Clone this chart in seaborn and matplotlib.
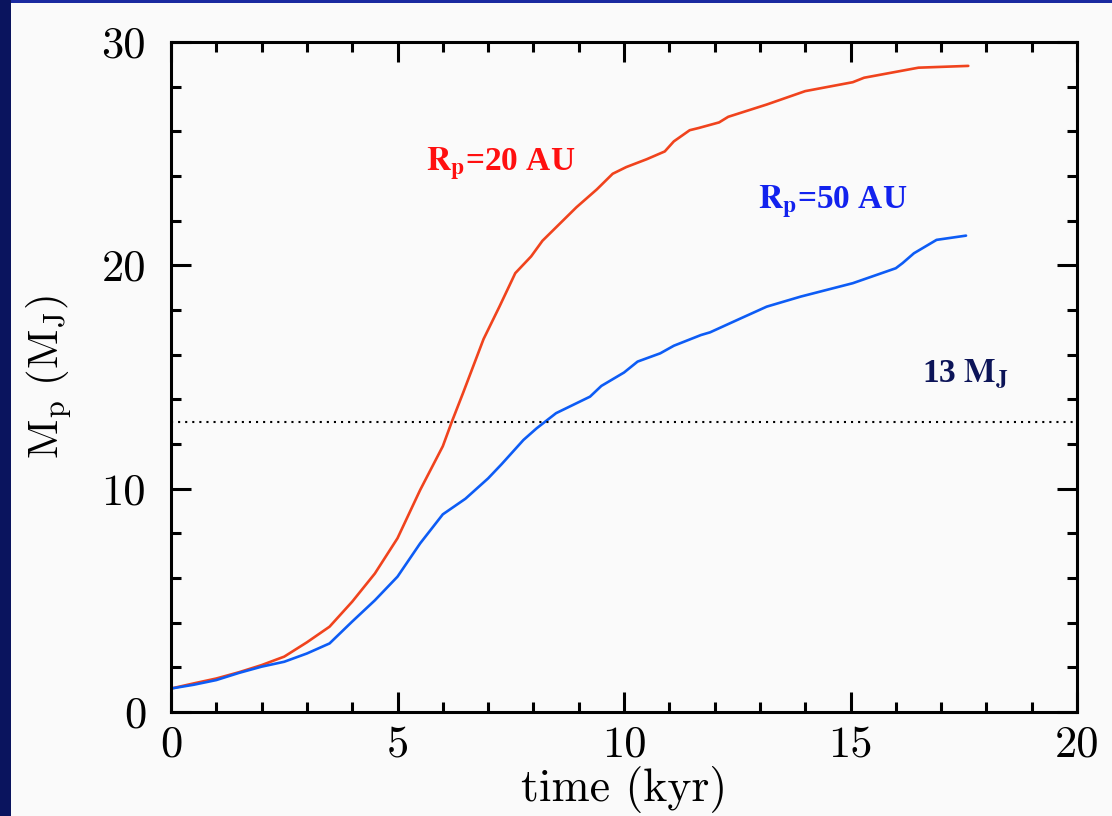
import matplotlib
matplotlib.use("Agg")
import matplotlib.pyplot as plt
import seaborn as sns
import pandas as pd
from matplotlib.patches import Rectangle
from matplotlib.ticker import MultipleLocator

# ---- data ----
t_20au = [0, 0.5, 1, 1.5, 2, 2.5, 3, 3.5, 4, 4.5, 5, 5.5, 6, 6.2, 6.45, 6.9, 7.25, 7.6,
          7.95, 8.2, 8.6, 8.95, 9.4, 9.75, 10.05, 10.5, 10.9, 11.1, 11.45, 11.65, 12.1,
          12.3, 13.15, 14.0, 15.05, 15.3, 16.1, 16.5, 17.6]
m_20au = [1.05, 1.28, 1.5, 1.78, 2.1, 2.48, 3.12, 3.82, 4.94, 6.2, 7.78, 9.94, 11.9, 13.0,
          14.3, 16.7, 18.15, 19.65, 20.4, 21.1, 21.9, 22.6, 23.4, 24.1, 24.4, 24.75, 25.1,
          25.55, 26.05, 26.15, 26.4, 26.65, 27.2, 27.8, 28.2, 28.4, 28.7, 28.85, 28.93]

t_50au = [0, 0.5, 1, 1.5, 2, 2.5, 3, 3.5, 4, 4.5, 5, 5.5, 6, 6.5, 7, 7.3, 7.78, 8.07, 8.5,
          9.25, 9.5, 10.0, 10.3, 10.8, 11.1, 11.7, 11.9, 12.55, 13.15, 13.9, 15.05, 16.0,
          16.15, 16.4, 16.9, 17.55]
m_50au = [1.05, 1.22, 1.43, 1.75, 2.03, 2.25, 2.62, 3.07, 4.05, 5.0, 6.06, 7.55, 8.85, 9.55,
          10.46, 11.1, 12.18, 12.7, 13.38, 14.12, 14.6, 15.2, 15.69, 16.06, 16.4, 16.88,
          17.0, 17.6, 18.15, 18.6, 19.2, 19.87, 20.1, 20.54, 21.14, 21.33]

deuterium_limit = 13
x_ticks = [0, 5, 10, 15, 20]
y_ticks = [0, 10, 20, 30]

# ---- style ----
sns.set_theme(style="ticks")
plt.rcParams["font.family"] = ["cmr10", "DejaVu Serif"]
plt.rcParams["axes.formatter.use_mathtext"] = True

fig = plt.figure(figsize=(11.12, 8.16), dpi=100, facecolor="#0a145e")
fig.patches.append(Rectangle((11 / 1112, 0), 1 - 11 / 1112, 1 - 3 / 816,
                             transform=fig.transFigure, facecolor="#fafafa",
                             edgecolor="none", zorder=-1))
fig.patches.append(Rectangle((11 / 1112, 1 - 3 / 816), 1 - 11 / 1112, 3 / 816,
                             transform=fig.transFigure, facecolor="#1a2aa0",
                             edgecolor="none", zorder=-1))

ax = fig.add_axes([171 / 1112, 104 / 816, 906 / 1112, 670 / 816])
ax.set_facecolor("#fafafa")

df20 = pd.DataFrame({"t": t_20au, "m": m_20au})
df50 = pd.DataFrame({"t": t_50au, "m": m_50au})
sns.lineplot(data=df20, x="t", y="m", ax=ax, color="#f0431d", lw=1.9, estimator=None)
sns.lineplot(data=df50, x="t", y="m", ax=ax, color="#0d5cf5", lw=1.9, estimator=None)
ax.axhline(deuterium_limit, color="black", lw=1.5, linestyle=(0, (1, 2.4)))

ax.set_xlim(0, 20)
ax.set_ylim(0, 30)
ax.set_xticks(x_ticks)
ax.set_yticks(y_ticks)
ax.set_xticklabels([str(v) for v in x_ticks])
ax.set_yticklabels([str(v) for v in y_ticks])
ax.xaxis.set_minor_locator(MultipleLocator(1))
ax.yaxis.set_minor_locator(MultipleLocator(2))
ax.tick_params(which="both", direction="in", top=True, right=True, width=2.2,
               color="black")
ax.tick_params(which="major", length=14.4, labelsize=32, colors="black")
ax.tick_params(axis="x", which="major", pad=10)
ax.tick_params(axis="y", which="major", pad=18)
ax.tick_params(which="minor", length=7.2)
for s in ax.spines.values():
    s.set_linewidth(2.2)
    s.set_color("black")
    s.set_visible(True)

ax.set_xlabel("time (kyr)", fontsize=33, labelpad=0, color="black")
ax.set_ylabel(r"$\mathrm{M_p\ (M_J)}$", fontsize=31, labelpad=20, color="black")
ax.yaxis.label.set_math_fontfamily("cm")

ann = dict(fontfamily="Liberation Serif", fontweight="bold", fontsize=24,
           ha="left", va="baseline", math_fontfamily="stix")
ax.text(5.63, 24.25, r"$\mathbf{R_p}$=20 AU", color="#ff1010", **ann)
ax.text(12.96, 22.57, r"$\mathbf{R_p}$=50 AU", color="#1222ee", **ann)
ax.text(16.58, 14.79, r"13 $\mathbf{M_J}$", color="#0c1458", **ann)

fig.savefig("out.png", dpi=100, facecolor=fig.get_facecolor())
